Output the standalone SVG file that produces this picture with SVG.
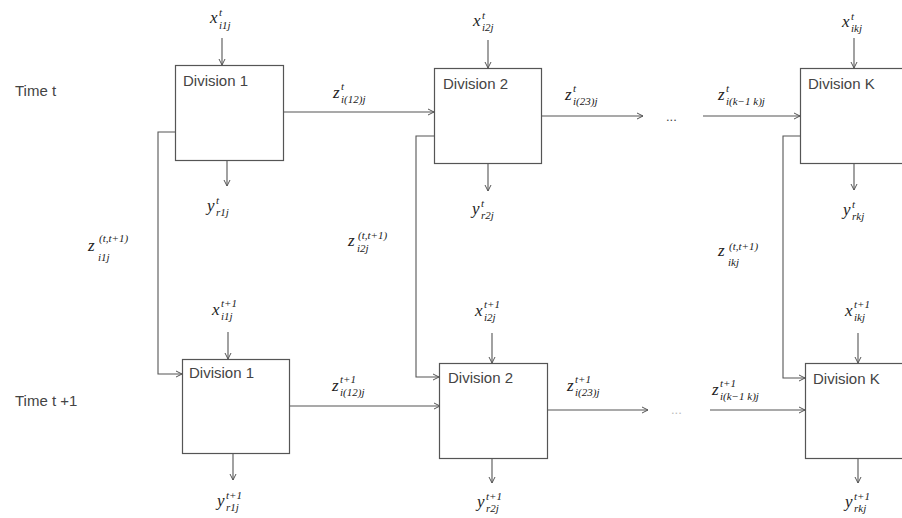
<svg xmlns="http://www.w3.org/2000/svg" width="902" height="518" viewBox="0 0 902 518">
<style>
.bg{fill:#ffffff}
.box{fill:#ffffff;stroke:#555;stroke-width:1.2}
.ln{fill:none;stroke:#555;stroke-width:1.1}
.lbl{font-family:"Liberation Sans",Arial,sans-serif;font-size:15px;fill:#444}
.m{font-family:"Liberation Serif","Times New Roman",serif;font-style:italic;font-size:17px;fill:#222}
.s{font-size:11px}
.faint{fill:#bbb}
</style>
<defs>
<marker id="ah" markerWidth="8" markerHeight="8" refX="7" refY="4" orient="auto" markerUnits="userSpaceOnUse">
<path d="M1,1 L7,4 L1,7" fill="none" stroke="#555" stroke-width="1"/>
</marker>
</defs>
<rect class="bg" x="0" y="0" width="902" height="518"/>

<g id="time-labels">
<text class="lbl" x="15" y="96">Time t</text>
<text class="lbl" x="15" y="406">Time t +1</text>
</g>

<g id="connectors">
<line class="ln" x1="222" y1="38" x2="222" y2="65" marker-end="url(#ah)"/>
<line class="ln" x1="227" y1="160" x2="227" y2="186" marker-end="url(#ah)"/>
<line class="ln" x1="488" y1="40" x2="488" y2="68" marker-end="url(#ah)"/>
<line class="ln" x1="488" y1="163" x2="488" y2="191" marker-end="url(#ah)"/>
<line class="ln" x1="854" y1="38" x2="854" y2="68" marker-end="url(#ah)"/>
<line class="ln" x1="854" y1="163" x2="854" y2="190" marker-end="url(#ah)"/>
<line class="ln" x1="284" y1="112" x2="434" y2="112" marker-end="url(#ah)"/>
<line class="ln" x1="542" y1="116" x2="643" y2="116" marker-end="url(#ah)"/>
<line class="ln" x1="703" y1="116" x2="800" y2="116" marker-end="url(#ah)"/>
<polyline class="ln" points="175,132 158,132 158,374 182,374" marker-end="url(#ah)"/>
<polyline class="ln" points="434,136 416,136 416,377 439,377" marker-end="url(#ah)"/>
<polyline class="ln" points="800,136 783,136 783,378 805,378" marker-end="url(#ah)"/>
<line class="ln" x1="228" y1="332" x2="228" y2="359" marker-end="url(#ah)"/>
<line class="ln" x1="233" y1="453" x2="233" y2="480" marker-end="url(#ah)"/>
<line class="ln" x1="492" y1="333" x2="492" y2="363" marker-end="url(#ah)"/>
<line class="ln" x1="492" y1="458" x2="492" y2="483" marker-end="url(#ah)"/>
<line class="ln" x1="858" y1="333" x2="858" y2="363" marker-end="url(#ah)"/>
<line class="ln" x1="858" y1="458" x2="858" y2="483" marker-end="url(#ah)"/>
<line class="ln" x1="289" y1="406" x2="440" y2="406" marker-end="url(#ah)"/>
<line class="ln" x1="547" y1="410" x2="648" y2="410" marker-end="url(#ah)"/>
<line class="ln" x1="710" y1="410" x2="805" y2="410" marker-end="url(#ah)"/>
</g>

<g id="div1-t">
<rect class="box" x="175.5" y="65.5" width="108" height="95"/>
<text class="lbl" x="183" y="86">Division 1</text>
</g>
<g id="div2-t">
<rect class="box" x="434.5" y="68.5" width="107" height="95"/>
<text class="lbl" x="443" y="89">Division 2</text>
</g>
<g id="divK-t">
<rect class="box" x="800.5" y="68.5" width="120" height="95"/>
<text class="lbl" x="808" y="89">Division K</text>
</g>
<g id="div1-t1">
<rect class="box" x="182.5" y="359.5" width="107" height="94"/>
<text class="lbl" x="189" y="378">Division 1</text>
</g>
<g id="div2-t1">
<rect class="box" x="439.5" y="363.5" width="108" height="95"/>
<text class="lbl" x="448" y="383">Division 2</text>
</g>
<g id="divK-t1">
<rect class="box" x="805.5" y="363.5" width="120" height="95"/>
<text class="lbl" x="813" y="384">Division K</text>
</g>

<g id="ellipses">
<text class="lbl" x="666" y="121" style="font-size:13px">...</text>
<text class="lbl faint" x="671" y="414" style="font-size:13px">...</text>
</g>

<g id="math-labels">
<text class="m" x="210" y="23">x<tspan class="s" x="219" y="16">t</tspan><tspan class="s" x="219" y="29">i1j</tspan></text>
<text class="m" x="207" y="211">y<tspan class="s" x="216" y="204">t</tspan><tspan class="s" x="216" y="216">r1j</tspan></text>
<text class="m" x="333" y="98">z<tspan class="s" x="341" y="90">t</tspan><tspan class="s" x="341" y="103">i(12)j</tspan></text>
<text class="m" x="473" y="26">x<tspan class="s" x="482" y="19">t</tspan><tspan class="s" x="482" y="31">i2j</tspan></text>
<text class="m" x="472" y="214">y<tspan class="s" x="481" y="207">t</tspan><tspan class="s" x="481" y="219">r2j</tspan></text>
<text class="m" x="565" y="100">z<tspan class="s" x="573" y="92">t</tspan><tspan class="s" x="573" y="105">i(23)j</tspan></text>
<text class="m" x="718" y="100">z<tspan class="s" x="726" y="92">t</tspan><tspan class="s" x="726" y="105">i(k−1 k)j</tspan></text>
<text class="m" x="842" y="27">x<tspan class="s" x="851" y="20">t</tspan><tspan class="s" x="851" y="32">ikj</tspan></text>
<text class="m" x="843" y="215">y<tspan class="s" x="852" y="208">t</tspan><tspan class="s" x="852" y="220">rkj</tspan></text>
<text class="m" x="88" y="251">z<tspan class="s" x="99" y="242">(t,t+1)</tspan><tspan class="s" x="98" y="261">i1j</tspan></text>
<text class="m" x="348" y="246">z<tspan class="s" x="358" y="239">(t,t+1)</tspan><tspan class="s" x="357" y="252">i2j</tspan></text>
<text class="m" x="718" y="256">z<tspan class="s" x="729" y="250">(t,t+1)</tspan><tspan class="s" x="728" y="266">ikj</tspan></text>
<text class="m" x="212" y="315">x<tspan class="s" x="221" y="307">t+1</tspan><tspan class="s" x="221" y="320">i1j</tspan></text>
<text class="m" x="217" y="506">y<tspan class="s" x="226" y="499">t+1</tspan><tspan class="s" x="226" y="511">r1j</tspan></text>
<text class="m" x="332" y="391">z<tspan class="s" x="340" y="383">t+1</tspan><tspan class="s" x="340" y="396">i(12)j</tspan></text>
<text class="m" x="475" y="316">x<tspan class="s" x="484" y="308">t+1</tspan><tspan class="s" x="484" y="321">i2j</tspan></text>
<text class="m" x="477" y="507">y<tspan class="s" x="486" y="500">t+1</tspan><tspan class="s" x="486" y="512">r2j</tspan></text>
<text class="m" x="567" y="391">z<tspan class="s" x="575" y="383">t+1</tspan><tspan class="s" x="575" y="396">i(23)j</tspan></text>
<text class="m" x="712" y="395">z<tspan class="s" x="720" y="387">t+1</tspan><tspan class="s" x="720" y="400">i(k−1 k)j</tspan></text>
<text class="m" x="845" y="316">x<tspan class="s" x="854" y="308">t+1</tspan><tspan class="s" x="854" y="321">ikj</tspan></text>
<text class="m" x="845" y="507">y<tspan class="s" x="854" y="500">t+1</tspan><tspan class="s" x="854" y="512">rkj</tspan></text>
</g>
</svg>
